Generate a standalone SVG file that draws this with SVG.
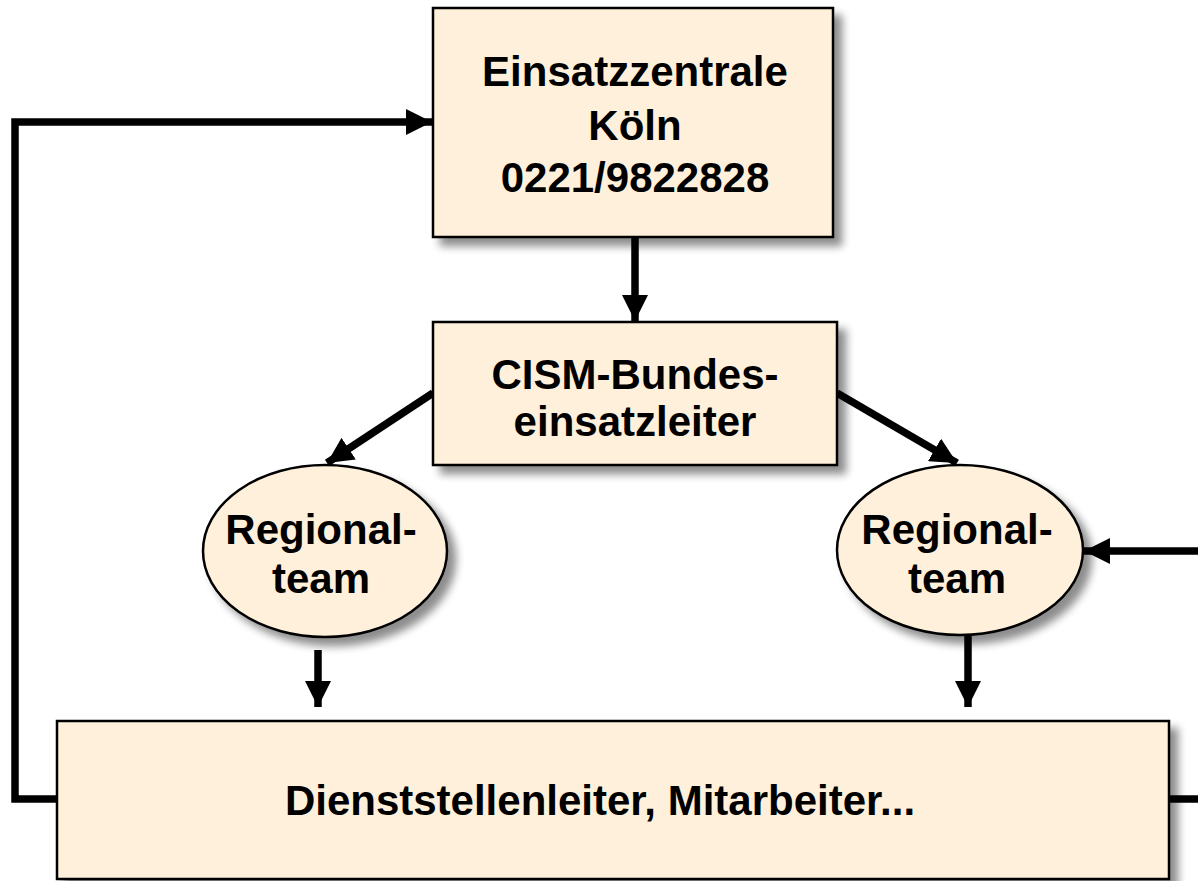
<svg xmlns="http://www.w3.org/2000/svg" width="1198" height="881" viewBox="0 0 1198 881">
<defs>
<style>
.box{fill:#FEF0DB;stroke:#000;stroke-width:2.5}
.t{font-family:"Liberation Sans",Arial,sans-serif;font-weight:bold;font-size:42px;text-anchor:middle;fill:#000}
.c{stroke:#000;stroke-width:7.5;fill:none}
</style>
<filter id="sh" x="-10%" y="-10%" width="130%" height="140%">
<feGaussianBlur in="SourceAlpha" stdDeviation="4"/>
<feOffset dx="8" dy="8" result="b"/>
<feComponentTransfer><feFuncA type="linear" slope="0.45"/></feComponentTransfer>
<feMerge><feMergeNode/><feMergeNode in="SourceGraphic"/></feMerge>
</filter>
<marker id="ah" markerUnits="userSpaceOnUse" markerWidth="26" markerHeight="26" refX="24" refY="12" orient="auto" viewBox="0 0 24 24">
<path d="M0,0 L24,12 L0,24 Z" fill="#000"/>
</marker>
</defs>
<g id="connectors">
<line class="c" x1="635" y1="237" x2="635" y2="321" marker-end="url(#ah)"/>
<line class="c" x1="433" y1="393" x2="327" y2="463" marker-end="url(#ah)"/>
<line class="c" x1="837" y1="393" x2="957" y2="463" marker-end="url(#ah)"/>
<line class="c" x1="318" y1="650" x2="318" y2="707" marker-end="url(#ah)"/>
<line class="c" x1="968" y1="635" x2="968" y2="707" marker-end="url(#ah)"/>
<line class="c" x1="1198" y1="551" x2="1084" y2="551" marker-end="url(#ah)"/>
<polyline class="c" points="57,799 15,799 15,122 432,122" marker-end="url(#ah)"/>
<line class="c" x1="1169" y1="799" x2="1198" y2="799"/>
</g>
<g id="zentrale">
<rect class="box" x="433" y="8" width="400" height="229" filter="url(#sh)"/>
<text class="t" x="635" y="86">Einsatzzentrale</text>
<text class="t" x="635" y="140">Köln</text>
<text class="t" x="635" y="192">0221/9822828</text>
</g>
<g id="bundes">
<rect class="box" x="433" y="322" width="404" height="143" filter="url(#sh)"/>
<text class="t" x="635" y="389">CISM-Bundes-</text>
<text class="t" x="635" y="436">einsatzleiter</text>
</g>
<g id="regional-left">
<ellipse class="box" cx="325" cy="551" rx="122" ry="86" filter="url(#sh)"/>
<text class="t" x="321" y="544">Regional-</text>
<text class="t" x="321" y="593">team</text>
</g>
<g id="regional-right">
<ellipse class="box" cx="960" cy="550" rx="123" ry="85" filter="url(#sh)"/>
<text class="t" x="957" y="544">Regional-</text>
<text class="t" x="957" y="593">team</text>
</g>
<g id="dienststellen">
<rect class="box" x="57" y="721" width="1112" height="158" filter="url(#sh)"/>
<text class="t" x="600" y="815">Dienststellenleiter, Mitarbeiter...</text>
</g>
</svg>
